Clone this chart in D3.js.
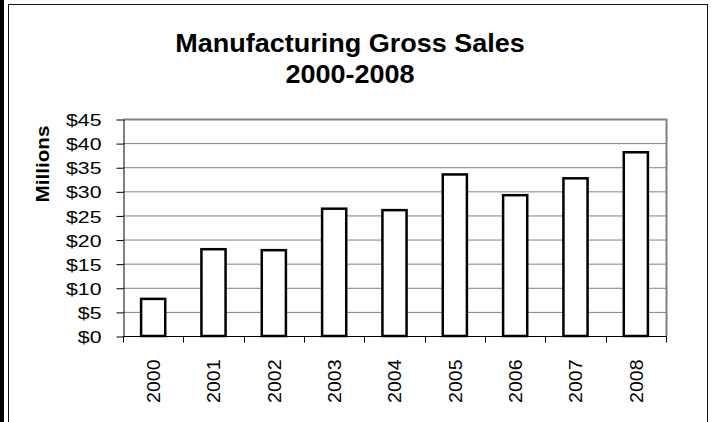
<!DOCTYPE html>
<html>
<head>
<meta charset="utf-8">
<script src="https://cdn.jsdelivr.net/npm/d3@7"></script>
<style>
  body { margin: 0; background: #fff; }
  text { font-family: "Liberation Sans", Arial, sans-serif; fill: #000; }
</style>
</head>
<body>
<div id="chart-area"></div>
<script>
// data (millions of dollars)
const years = ["2000", "2001", "2002", "2003", "2004", "2005", "2006", "2007", "2008"]
const sales = [7.7, 18.0, 17.8, 26.4, 26.1, 33.5, 29.2, 32.7, 38.1]
const yTicks = [0, 5, 10, 15, 20, 25, 30, 35, 40, 45]
const titleLines = ["Manufacturing Gross Sales", "2000-2008"]

const W = 713, H = 422
const PLOT = { LEFT: 123, RIGHT: 666, TOP: 119, BOTTOM: 336 }

const svg = d3.select("#chart-area").append("svg")
  .attr("width", W)
  .attr("height", H)

// page edge + chart frame
svg.append("rect").attr("x", 0).attr("y", 0).attr("width", 4).attr("height", H).attr("fill", "#000")
svg.append("rect")
  .attr("x", 8.5).attr("y", 4.5).attr("width", 699).attr("height", H + 10)
  .attr("fill", "#fff").attr("stroke", "#111").attr("stroke-width", 1)

// title
svg.append("g").selectAll("text")
  .data(titleLines)
  .enter().append("text")
    .attr("text-anchor", "middle")
    .attr("font-weight", "bold")
    .attr("font-size", 25)
    .attr("transform", (d, i) => `translate(350, ${52 + i * 31}) scale(1.08, 1)`)
    .text(d => d)

const xScale = d3.scaleBand()
  .domain(years)
  .range([PLOT.LEFT, PLOT.RIGHT])
  .paddingInner(0.6)
  .paddingOuter(0.3)

const yScale = d3.scaleLinear()
  .domain([0, 45])
  .range([PLOT.BOTTOM, PLOT.TOP])

// gridlines
svg.append("g").selectAll("line")
  .data(yTicks.filter(d => d > 0))
  .enter().append("line")
    .attr("x1", PLOT.LEFT).attr("x2", PLOT.RIGHT)
    .attr("y1", d => yScale(d) + 0.5).attr("y2", d => yScale(d) + 0.5)
    .attr("stroke", "#808080")

// plot area border (top / right)
svg.append("path")
  .attr("d", `M${PLOT.LEFT},${PLOT.TOP + 0.5}H${PLOT.RIGHT + 0.5}V${PLOT.BOTTOM}`)
  .attr("fill", "none").attr("stroke", "#808080").attr("stroke-width", 2)

// bars
svg.append("g").selectAll("rect")
  .data(sales)
  .enter().append("rect")
    .attr("x", (d, i) => xScale(years[i]))
    .attr("y", d => yScale(d))
    .attr("width", xScale.bandwidth())
    .attr("height", d => yScale(0) - yScale(d))
    .attr("fill", "#fff")
    .attr("stroke", "#000")
    .attr("stroke-width", 2.5)

// y axis
const yAxis = d3.axisLeft(yScale)
  .tickValues(yTicks)
  .tickFormat(d => "$" + d)
  .tickSize(7)
  .tickSizeOuter(0)

const yG = svg.append("g")
  .attr("transform", `translate(${PLOT.LEFT + 0.5}, 0.5)`)
  .call(yAxis)
yG.select(".domain").attr("stroke", "#000")
yG.selectAll("text")
  .attr("x", null)
  .attr("dy", "0.36em")
  .attr("font-size", 17)
  .attr("transform", "translate(-22, 0) scale(1.25, 1)")

// x axis: labels at band centres, ticks at category boundaries
const xAxis = d3.axisBottom(xScale).tickSize(0).tickSizeOuter(0)
const xG = svg.append("g")
  .attr("transform", `translate(0, ${PLOT.BOTTOM + 0.5})`)
  .call(xAxis)
xG.select(".domain").attr("stroke", "#000").attr("d", `M${PLOT.LEFT},0H${PLOT.RIGHT + 1}`)
xG.selectAll("text")
  .attr("y", null)
  .attr("dy", "0.36em")
  .attr("text-anchor", "end")
  .attr("font-size", 19)
  .attr("transform", "translate(0, 23) rotate(-90) scale(1.03, 1)")

const bounds = years.map(d => xScale(d) - xScale.step() * xScale.paddingOuter()).concat([PLOT.RIGHT])
xG.append("g").selectAll("line")
  .data(bounds)
  .enter().append("line")
    .attr("x1", d => Math.round(d) + 0.5).attr("x2", d => Math.round(d) + 0.5)
    .attr("y1", 0).attr("y2", 6)
    .attr("stroke", "#000")

// axis title
svg.append("text")
  .attr("text-anchor", "middle")
  .attr("font-weight", "bold")
  .attr("font-size", 18)
  .attr("transform", "translate(49, 164) rotate(-90) scale(1.15, 1)")
  .text("Millions")
</script>
</body>
</html>
